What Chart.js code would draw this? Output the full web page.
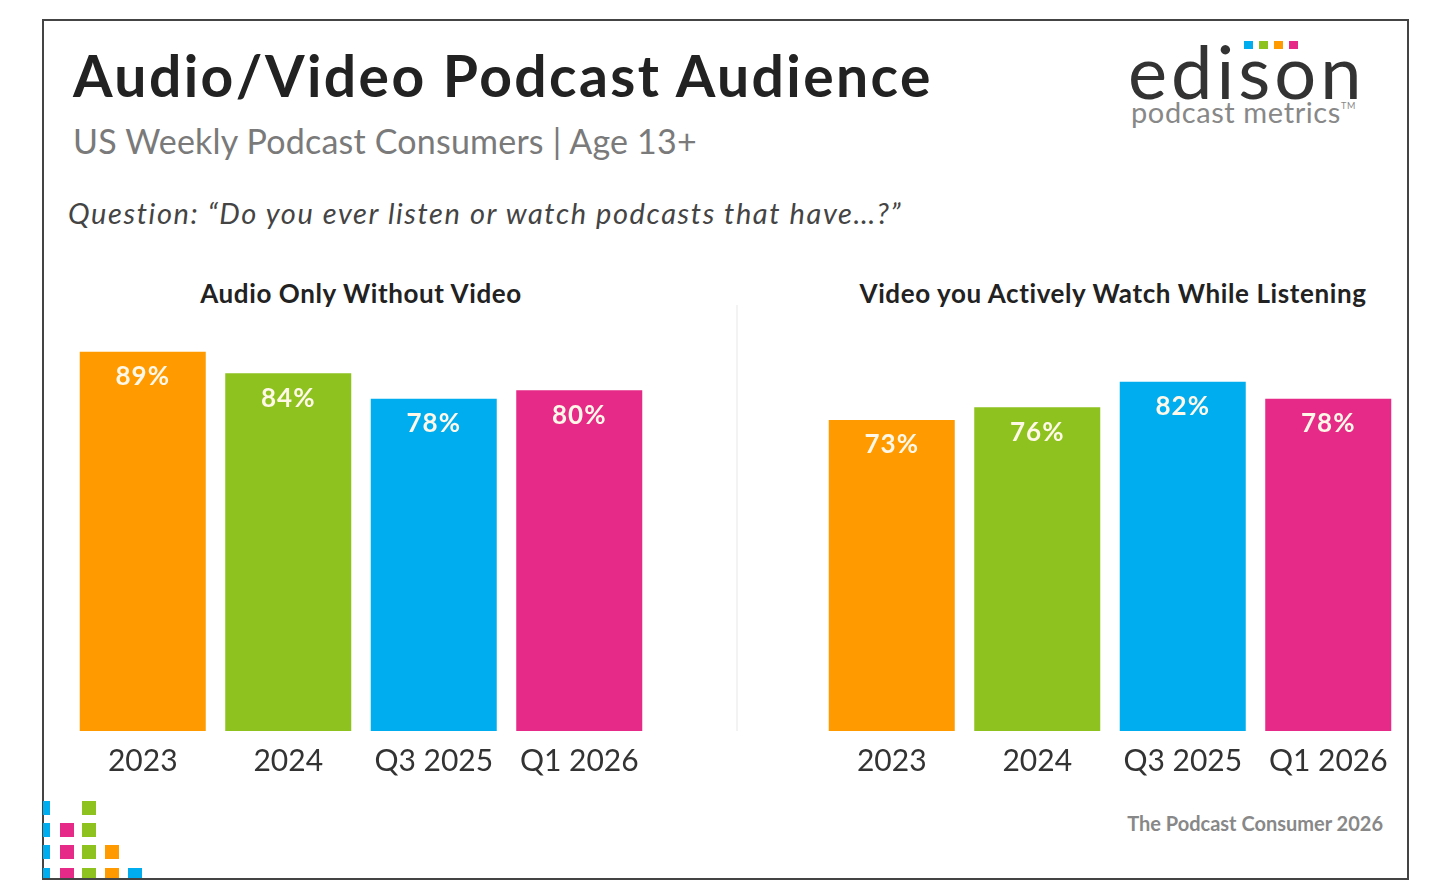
<!DOCTYPE html>
<html>
<head>
<meta charset="utf-8">
<script src="https://cdn.jsdelivr.net/npm/chart.js@4"></script>
<style>
  body { margin: 0; background: #fff; width: 1434px; height: 892px; position: relative; overflow: hidden; font-family: Lato, "Noto Sans", sans-serif; }
  #frame { position: absolute; left: 42px; top: 19px; width: 1363px; height: 857px; border: 2px solid #444; }
  .txt { position: absolute; white-space: nowrap; }
  #title { left: 73px; top: 41px; font-size: 57px; font-weight: 700; color: #222; letter-spacing: 2.4px; }
  #sub { left: 73px; top: 120px; font-size: 34px; color: #7a7a7a; letter-spacing: 0.2px; }
  #question { left: 68px; top: 195px; font-size: 29px; font-style: italic; color: #444; letter-spacing: 1.6px; }
  .ptitle { top: 277px; font-size: 26px; font-weight: 700; color: #222; letter-spacing: 0.6px; transform: translateX(-50%); }
  #logo { left: 1128px; top: 26px; font-size: 74px; color: #333; letter-spacing: 4px; }
  #logo2 { left: 1131px; top: 94px; font-size: 29px; color: #888; letter-spacing: 0.6px; }
  #logo2 sup { font-size: 9px; vertical-align: 14px; }
  #footer { right: 51px; top: 811px; font-size: 20px; font-weight: 700; color: #888; }
  .sq { position: absolute; width: 14px; height: 14px; }
  #divider { position: absolute; left: 736px; top: 305px; width: 2px; height: 426px; background: #f3f3f3; }
  canvas { position: absolute; }
</style>
</head>
<body>
<div id="frame"></div>
<div class="txt" id="title">Audio/Video Podcast Audience</div>
<div class="txt" id="sub">US Weekly Podcast Consumers | Age 13+</div>
<div class="txt" id="question">Question: “Do you ever listen or watch podcasts that have…?”</div>
<div class="txt ptitle" style="left:361px">Audio Only Without Video</div>
<div class="txt ptitle" style="left:1113px">Video you Actively Watch While Listening</div>
<div class="txt" id="logo">edison</div>
<div class="txt" id="logo2">podcast metrics<sup>TM</sup></div>
<div id="dots"></div>
<div id="logodots"></div>
<div class="txt" id="footer">The Podcast Consumer 2026</div>
<div id="divider"></div>
<div style="position:absolute;left:70px;top:300px;width:582px;height:491px"><canvas id="audioChart"></canvas></div>
<div style="position:absolute;left:819px;top:300px;width:582px;height:491px"><canvas id="videoChart"></canvas></div>
<script>
const periods = ['2023', '2024', 'Q3 2025', 'Q1 2026']
const audioOnly = [89, 84, 78, 80]
const videoWatch = [73, 76, 82, 78]
const barColors = ['#ff9a00', '#8dc21f', '#00aeef', '#e62a87']

// little coloured squares (decoration)
const dotCols = [
  { x: 43, w: 7, color: '#00aeef', rows: [0, 1, 2, 3] },
  { x: 60, w: 14, color: '#e62a87', rows: [1, 2, 3] },
  { x: 82, w: 14, color: '#8dc21f', rows: [0, 1, 2, 3] },
  { x: 105, w: 14, color: '#ff9a00', rows: [2, 3] },
  { x: 128, w: 14, color: '#00aeef', rows: [3] }
]
const rowY = [801, 823, 845, 868]
let dots = ''
dotCols.forEach(c => c.rows.forEach(r => {
  let h = r === 3 ? 10 : 14
  dots += `<div class="sq" style="left:${c.x}px;top:${rowY[r]}px;width:${c.w}px;height:${h}px;background:${c.color}"></div>`
}))
document.getElementById('dots').innerHTML = dots

let ld = ''
const logoColors = ['#00aeef', '#8dc21f', '#ff9a00', '#e62a87']
logoColors.forEach((c, i) => {
  ld += `<div class="sq" style="left:${1244 + i * 15}px;top:41px;width:9px;height:8px;background:${c}"></div>`
})
document.getElementById('logodots').innerHTML = ld

const valueLabels = {
  id: 'valueLabels',
  afterDatasetsDraw(chart) {
    const { ctx } = chart
    const meta = chart.getDatasetMeta(0)
    ctx.save()
    ctx.font = 'bold 26px Lato, "Noto Sans", sans-serif'
    ctx.letterSpacing = '1px'
    ctx.fillStyle = '#fff8e8'
    ctx.textAlign = 'center'
    ctx.textBaseline = 'middle'
    meta.data.forEach((bar, i) => {
      ctx.fillText(chart.data.datasets[0].data[i] + '%', bar.x, bar.y + 25)
    })
    ctx.restore()
  }
}

function makeChart(id, values) {
  new Chart(document.getElementById(id), {
    type: 'bar',
    data: {
      labels: periods,
      datasets: [{
        data: values,
        backgroundColor: barColors,
        categoryPercentage: 1,
        barPercentage: 0.866
      }]
    },
    plugins: [valueLabels],
    options: {
      responsive: true,
      maintainAspectRatio: false,
      animation: false,
      layout: { padding: { top: 5, left: 0, right: 0, bottom: 0 } },
      scales: {
        y: { display: false, min: 0, max: 100 },
        x: {
          grid: { display: false, drawTicks: false },
          border: { display: false },
          ticks: { color: '#333', padding: 12, font: { size: 30, family: 'Lato, "Noto Sans", sans-serif' } }
        }
      },
      plugins: {
        legend: { display: false },
        tooltip: { enabled: false }
      }
    }
  })
}

makeChart('audioChart', audioOnly)
makeChart('videoChart', videoWatch)
</script>
</body>
</html>
